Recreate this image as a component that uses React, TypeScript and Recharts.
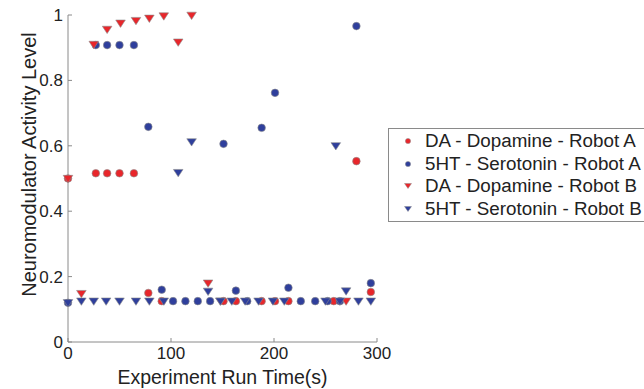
// Scatter of neuromodulator activity for two robots over the experiment run
// MATLAB-like frame: inward ticks on all four sides, boxed legend at the right

import React from "react"
import { ScatterChart, Scatter, XAxis, YAxis, Legend } from "recharts"

type Pt = [number, number]

const xTicks = [0, 100, 200, 300]
const yTicks = [0, 0.2, 0.4, 0.6, 0.8, 1]

const daRobotA: Pt[] = [
  [0, 0.5], [27, 0.516], [38, 0.516], [50, 0.516], [64, 0.516], [78, 0.15],
  [91, 0.125], [151, 0.125], [163, 0.125], [188, 0.125], [201, 0.125],
  [214, 0.125], [258, 0.125], [280, 0.553], [294, 0.153],
]

const serotoninRobotA: Pt[] = [
  [0, 0.12], [27, 0.908], [38, 0.908], [50, 0.908], [64, 0.908], [78, 0.658],
  [91, 0.16], [102, 0.125], [114, 0.125], [126, 0.125], [138, 0.125],
  [151, 0.606], [163, 0.157], [174, 0.125], [188, 0.655], [201, 0.762],
  [214, 0.166], [226, 0.125], [240, 0.125], [252, 0.125], [264, 0.125],
  [280, 0.966], [294, 0.18],
]

const daRobotB: Pt[] = [
  [0, 0.5], [13, 0.148], [25, 0.91], [38, 0.956], [51, 0.975], [66, 0.983],
  [79, 0.99], [93, 0.997], [107, 0.917], [120, 0.999], [136, 0.18],
  [148, 0.125], [270, 0.125],
]

const serotoninRobotB: Pt[] = [
  [0, 0.12], [13, 0.125], [25, 0.125], [37, 0.125], [50, 0.125], [66, 0.125],
  [79, 0.125], [93, 0.125], [107, 0.518], [120, 0.612], [136, 0.155],
  [148, 0.125], [159, 0.125], [172, 0.125], [185, 0.125], [199, 0.125],
  [210, 0.125], [250, 0.125], [260, 0.6], [264, 0.125], [270, 0.156],
  [282, 0.125], [294, 0.125],
]

const RED = "#e8262b"
const BLUE = "#2f3f9c"
const EDGE = "#8c8c8c"
const AXIS = "#8a8a8a"
const TEXT = "#222"
const FONT = "'Liberation Sans', Arial, sans-serif"

const toRows = (pts: Pt[]) => pts.map(([x, y]) => ({ x, y }))

const series = [
  { name: "DA - Dopamine - Robot A", data: daRobotA, color: RED, marker: "circle" },
  { name: "5HT - Serotonin - Robot A", data: serotoninRobotA, color: BLUE, marker: "circle" },
  { name: "DA - Dopamine - Robot B", data: daRobotB, color: RED, marker: "triangle" },
  { name: "5HT - Serotonin - Robot B", data: serotoninRobotB, color: BLUE, marker: "triangle" },
]

const circleShape = (fill: string, r = 3.8) => (p: any) => (
  <circle cx={p.cx} cy={p.cy} r={r} fill={fill} stroke={EDGE} strokeWidth={0.6} />
)

const triangleShape = (fill: string, w = 4.8, h = 4.2) => (p: any) => {
  const { cx, cy } = p
  return (
    <path
      d={`M${cx - w},${cy - h * 0.75}L${cx + w},${cy - h * 0.75}L${cx},${cy + h}Z`}
      fill={fill}
      stroke={EDGE}
      strokeWidth={0.6}
    />
  )
}

const LegendBox = () => (
  <div
    style={{
      border: `1px solid ${AXIS}`,
      background: "#fff",
      padding: "1px 0",
      fontFamily: FONT,
      fontSize: 18.8,
      color: TEXT,
      width: 300,
    }}
  >
    {series.map((s) => (
      <div key={s.name} style={{ display: "flex", alignItems: "center", height: 22.5 }}>
        <svg width={36} height={20} style={{ flex: "none" }}>
          {s.marker === "circle" ? (
            <circle cx={19} cy={10} r={2.6} fill={s.color} stroke={EDGE} strokeWidth={0.5} />
          ) : (
            <path d="M15.5,7.5L22.5,7.5L19,12.5Z" fill={s.color} stroke={EDGE} strokeWidth={0.5} />
          )}
        </svg>
        <span style={{ whiteSpace: "nowrap" }}>{s.name}</span>
      </div>
    ))}
  </div>
)

const YLabel = ({ viewBox }: any) => {
  const cx = 29
  const cy = viewBox.y + viewBox.height / 2 - 14
  return (
    <text
      x={cx}
      y={cy}
      transform={`rotate(-90, ${cx}, ${cy})`}
      textAnchor="middle"
      dominantBaseline="central"
      fontFamily={FONT}
      fontSize={20}
      fill={TEXT}
    >
      Neuromodulator Activity Level
    </text>
  )
}

const tickStyle = { fontFamily: FONT, fontSize: 17, fill: TEXT }
const blank = () => ""

export default function App() {
  return (
    <div style={{ position: "absolute", left: 0, top: 0, width: 644, height: 389, overflow: "hidden", background: "#fff" }}>
      <ScatterChart width={644} height={389} margin={{ top: 15, right: 267, bottom: 0, left: 0 }}>
        <XAxis
          xAxisId="bottom"
          type="number"
          dataKey="x"
          domain={[0, 300]}
          ticks={xTicks}
          height={47}
          stroke={AXIS}
          tickSize={-4}
          tickMargin={9}
          tick={tickStyle}
          label={{
            value: "Experiment Run Time(s)",
            position: "insideBottom",
            offset: 5,
            style: { fontFamily: FONT, fontSize: 19.5, fill: TEXT },
          }}
        />
        <XAxis
          xAxisId="top"
          orientation="top"
          type="number"
          dataKey="x"
          domain={[0, 300]}
          ticks={xTicks}
          height={0}
          stroke={AXIS}
          tickSize={-4}
          tickFormatter={blank}
        />
        <YAxis
          yAxisId="left"
          type="number"
          dataKey="y"
          domain={[0, 1]}
          ticks={yTicks}
          width={68}
          stroke={AXIS}
          tickSize={-4}
          tickMargin={9}
          tick={tickStyle}
          label={<YLabel />}
        />
        <YAxis
          yAxisId="right"
          orientation="right"
          type="number"
          dataKey="y"
          domain={[0, 1]}
          ticks={yTicks}
          width={0}
          stroke={AXIS}
          tickSize={-4}
          tickFormatter={blank}
        />
        <Legend
          layout="vertical"
          align="center"
          verticalAlign="middle"
          content={<LegendBox />}
          wrapperStyle={{ position: "absolute", left: 388, top: 128, width: 300 }}
        />
        {series.map((s) => (
          <Scatter
            key={s.name}
            name={s.name}
            data={toRows(s.data)}
            xAxisId="bottom"
            yAxisId="left"
            fill={s.color}
            shape={s.marker === "circle" ? circleShape(s.color) : triangleShape(s.color)}
            isAnimationActive={false}
          />
        ))}
      </ScatterChart>
    </div>
  )
}
